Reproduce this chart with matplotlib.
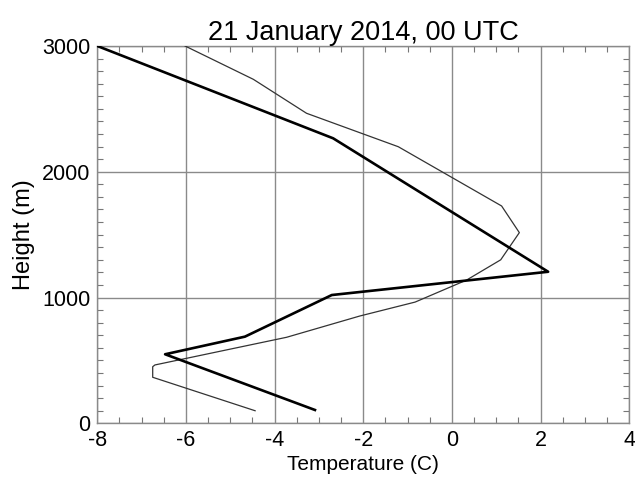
import numpy as np
import matplotlib
matplotlib.use("Agg")
import matplotlib.pyplot as plt
from matplotlib.ticker import MultipleLocator

plt.rcParams['font.family'] = ['Liberation Sans', 'DejaVu Sans']
plt.rcParams['axes.unicode_minus'] = False

# profile 1 (thick line): temperature (C) vs height (m)
thick_temp = [-8.0, -2.68, 2.17, -2.71, -4.67, -6.47, -3.09]
thick_height = [3000, 2266, 1205, 1020, 689, 549, 106]

# profile 2 (thin line)
thin_temp = [-6.02, -4.48, -3.28, -1.21, 1.12, 1.52, 1.10, 0.33, -0.83,
             -2.08, -3.73, -6.70, -6.75, -6.75, -4.44]
thin_height = [3000, 2735, 2465, 2199, 1728, 1516, 1300, 1139, 964,
               853, 684, 464, 450, 366, 100]

title = "21 January 2014, 00 UTC"

fig = plt.figure(figsize=(6.35, 4.78), dpi=100)
ax = fig.add_axes([0.1532, 0.1144, 0.8378, 0.7894])

ax.plot(thin_temp, thin_height, color='#333333', lw=0.9, zorder=3)
ax.plot(thick_temp, thick_height, color='black', lw=1.9, zorder=4)

ax.set_xlim(-8, 4)
ax.set_ylim(0, 3000)
ax.xaxis.set_major_locator(MultipleLocator(2))
ax.xaxis.set_minor_locator(MultipleLocator(0.5))
ax.yaxis.set_major_locator(MultipleLocator(1000))
ax.yaxis.set_minor_locator(MultipleLocator(100))
ax.grid(True, which='major', color='#8a8a8a', lw=1.0)

ax.tick_params(which='both', direction='in', color='#777777', top=True, right=True,
               labelsize=15.5, pad=5)
ax.tick_params(which='major', length=0)
ax.tick_params(which='minor', length=4, width=0.8)
for s in ax.spines.values():
    s.set_color('#8a8a8a')
    s.set_linewidth(1.0)

ax.set_xlabel("Temperature (C)", fontsize=15, labelpad=3)
ax.set_ylabel("Height (m)", fontsize=17, labelpad=5)
ax.set_title(title, fontsize=19.5, pad=4)

fig.savefig("out.png", dpi=100)
